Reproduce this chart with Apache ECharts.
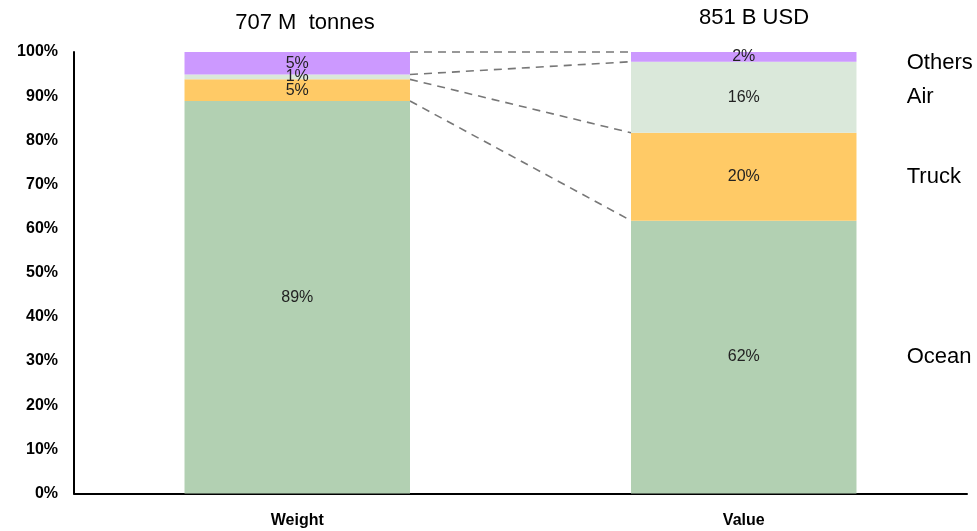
<!DOCTYPE html>
<html>
<head>
<meta charset="utf-8">
<script src="https://cdn.jsdelivr.net/npm/echarts@6/dist/echarts.min.js"></script>
<style>html,body{margin:0;padding:0;background:#fff}#c{width:977px;height:531px}</style>
</head>
<body>
<div id="c"></div>
<script>
const categories = ['Weight', 'Value'];
const modes = ['Ocean', 'Truck', 'Air', 'Others'];
const ocean = [88.9, 61.8];
const truck = [4.9, 19.9];
const air = [1.1, 16.1];
const others = [5.1, 2.2];
const barTitles = ['707 M  tonnes', '851 B USD'];
const colors = ['#b2d0b2', '#ffca66', '#dae8da', '#cc99ff'];

const seriesValues = [ocean, truck, air, others];
const FONT = "'Liberation Sans', Arial, sans-serif";

// cumulative tops of each segment for both bars
function cumul(idx) {
  let s = 0; const out = [];
  seriesValues.forEach(arr => { s += arr[idx]; out.push(s); });
  return out;
}
const wCum = cumul(0), vCum = cumul(1);
const connectorData = wCum.map((w, i) => [0, w, vCum[i]]);
const sideLabelData = vCum.map((c, i) => [1, c - seriesValues[i][1] / 2]);

const BAR_RATIO = 0.505;
const chart = echarts.init(document.getElementById('c'));
const option = {
  animation: false,
  textStyle: { fontFamily: FONT },
  grid: { left: 74, right: 10, top: 52, bottom: 37.5 },
  xAxis: {
    type: 'category', data: categories,
    axisLine: { lineStyle: { color: '#000', width: 2 } },
    axisTick: { show: false },
    axisLabel: { color: '#000', fontSize: 16, fontWeight: 'bold', margin: 19, fontFamily: FONT }
  },
  yAxis: {
    type: 'value', min: 0, max: 100, interval: 10,
    axisLine: { show: true, lineStyle: { color: '#000', width: 2 } },
    axisTick: { show: false },
    splitLine: { show: false },
    axisLabel: { formatter: '{value}%', color: '#000', fontSize: 16, fontWeight: 'bold', margin: 16, fontFamily: FONT }
  },
  graphic: [
    { type: 'text', x: 305, y: 23, style: { text: barTitles[0], fontSize: 22, fontFamily: FONT, fill: '#000', textAlign: 'center', textVerticalAlign: 'middle' } },
    { type: 'text', x: 754, y: 18, style: { text: barTitles[1], fontSize: 22, fontFamily: FONT, fill: '#000', textAlign: 'center', textVerticalAlign: 'middle' } }
  ],
  series: modes.map((m, i) => ({
    name: m, type: 'bar', stack: 'total', data: seriesValues[i],
    barWidth: (BAR_RATIO * 100) + '%',
    itemStyle: { color: colors[i] },
    label: {
      show: true, position: 'inside', color: '#222', fontSize: 16, fontFamily: FONT,
      formatter: p => Math.round(p.value) + '%'
    }
  })).concat([
    {
      type: 'custom', name: 'connectors', data: connectorData, encode: { x: 0, y: 1 }, z: 1,
      silent: true,
      renderItem: function (params, api) {
        const band = api.size([1, 0])[0];
        const half = band * BAR_RATIO / 2;
        const p1 = api.coord([0, api.value(1)]);
        const p2 = api.coord([1, api.value(2)]);
        return {
          type: 'line',
          shape: { x1: p1[0] + half, y1: p1[1], x2: p2[0] - half, y2: p2[1] },
          style: { stroke: '#777777', lineWidth: 1.6, lineDash: [8, 6] }
        };
      }
    },
    {
      type: 'custom', name: 'sideLabels', data: sideLabelData, encode: { x: 0, y: 1 },
      silent: true,
      renderItem: function (params, api) {
        const band = api.size([1, 0])[0];
        const p = api.coord([1, api.value(1)]);
        return {
          type: 'text',
          x: p[0] + band * 0.365, y: p[1] + (params.dataIndex === 3 ? 6 : 0),
          style: { text: modes[params.dataIndex], fontSize: 22, fontFamily: FONT, fill: '#000', textVerticalAlign: 'middle' }
        };
      }
    }
  ])
};
chart.setOption(option);
</script>
</body>
</html>
